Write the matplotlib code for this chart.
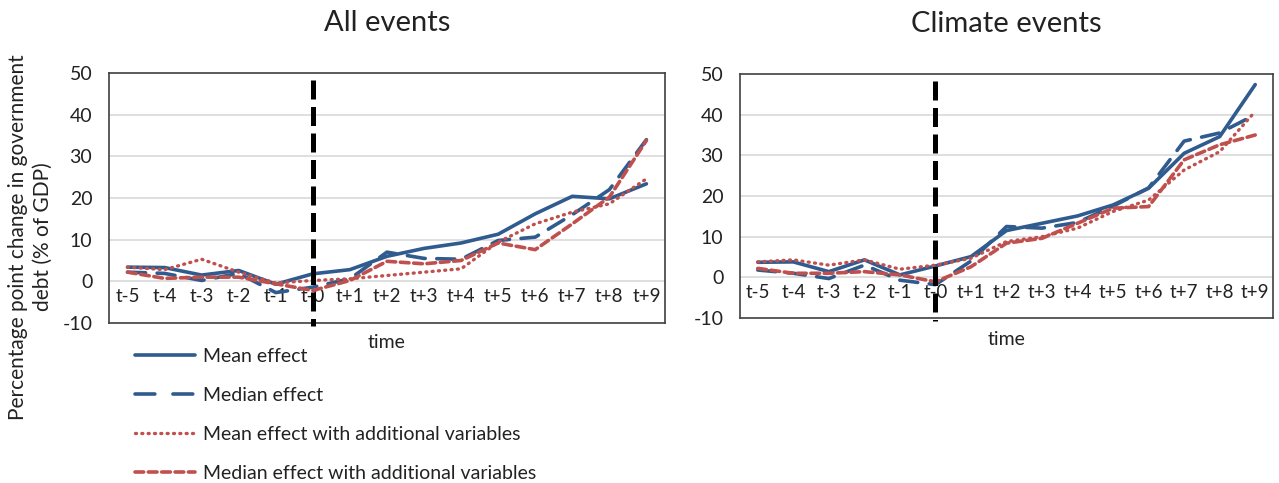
import matplotlib
matplotlib.use("Agg")
import matplotlib.pyplot as plt
from matplotlib.lines import Line2D

plt.rcParams['font.family'] = ['Lato', 'DejaVu Sans']

# Event-time categories
periods = ['t-5', 't-4', 't-3', 't-2', 't-1', 't-0', 't+1', 't+2',
           't+3', 't+4', 't+5', 't+6', 't+7', 't+8', 't+9']
event_period = 't-0'

# All events (pp change in government debt, % of GDP)
all_mean = [3.4, 3.3, 1.5, 2.6, -0.7, 1.8, 2.8, 6.0, 7.9, 9.2, 11.3, 16.2, 20.4, 19.8, 23.4]
all_median = [2.2, 1.9, 0.2, 1.9, -2.7, -1.4, 0.6, 7.0, 5.5, 5.3, 9.8, 10.6, 16.0, 22.0, 34.0]
all_mean_add = [3.4, 2.8, 5.3, 2.2, -0.4, 0.2, 0.6, 1.4, 2.2, 3.0, 9.4, 13.8, 16.6, 18.6, 24.6]
all_median_add = [2.2, 0.7, 1.0, 1.0, -0.6, -2.2, 0.2, 4.8, 4.2, 5.0, 9.2, 7.6, 13.8, 20.2, 33.8]

# Climate events
clim_mean = [3.7, 3.8, 1.4, 4.3, 0.6, 2.8, 5.1, 11.5, 13.3, 15.1, 17.8, 21.9, 30.5, 34.6, 47.4]
clim_median = [1.8, 1.0, -0.3, 3.0, -0.7, -1.8, 4.0, 12.5, 12.1, 13.5, 17.5, 22.0, 33.5, 35.5, 40.0]
clim_mean_add = [3.8, 4.3, 3.0, 4.3, 2.0, 3.0, 4.7, 8.8, 10.0, 12.1, 16.2, 19.0, 26.4, 30.9, 40.8]
clim_median_add = [2.2, 1.0, 1.0, 1.4, 0.6, -1.1, 2.6, 8.4, 9.6, 13.3, 17.0, 17.4, 28.9, 32.6, 35.0]

series_labels = ['Mean effect', 'Median effect',
                 'Mean effect with additional variables',
                 'Median effect with additional variables']
y_ticks = [-10, 0, 10, 20, 30, 40, 50]

BLUE = '#2F5B8F'
RED = '#C0504D'
TXT = '#222222'
FS = 13.5
styles = [
    dict(color=BLUE, lw=2.6, linestyle='-', solid_capstyle='round'),
    dict(color=BLUE, lw=2.6, linestyle=(0, (5.0, 3.2)), dash_capstyle='round'),
    dict(color=RED, lw=2.4, linestyle=(0, (0.3, 1.6)), dash_capstyle='round'),
    dict(color=RED, lw=2.6, linestyle=(0, (2.4, 1.3)), dash_capstyle='round'),
]
# legend swatches use a slightly longer dash for the median line
legend_styles = [dict(st) for st in styles]
legend_styles[1]['linestyle'] = (0, (5.5, 5.0))

fig = plt.figure(figsize=(12.79, 4.83), dpi=100)
ax1 = fig.add_axes([0.0852, 0.3313, 0.4347, 0.5176])
ax2 = fig.add_axes([0.5786, 0.3416, 0.4167, 0.5052])


def draw_panel(ax, title, data, xlabel_y):
    x = list(range(len(periods)))
    for vals, st in zip(data, styles):
        ax.plot(x, vals, zorder=3, **st)
    ax.set_xlim(-0.5, len(periods) - 0.5)
    ax.set_ylim(-10, 50)
    ax.set_yticks(y_ticks)
    ax.set_yticklabels([str(v) for v in y_ticks], fontsize=FS + 0.5, color=TXT)
    ax.tick_params(axis='y', length=0, pad=12)
    ax.set_xticks([])
    for v in y_ticks[1:-1]:
        ax.axhline(v, color='#D9D9D9', lw=1.2, zorder=1)
    for sp in ax.spines.values():
        sp.set_color('#404040')
        sp.set_linewidth(1.2)
    # category labels sit along the zero line
    zero_frac = (0 - (-10)) / 60
    sec = ax.secondary_xaxis(zero_frac)
    sec.set_xticks(x)
    sec.set_xticklabels(periods, fontsize=FS, color=TXT)
    sec.tick_params(length=0, pad=5)
    sec.spines['bottom'].set_visible(False)
    # event marker at t-0
    ev = periods.index(event_period)
    ax.plot([ev, ev], [48.2, -10.8], color='black', lw=3.6,
            linestyle=(0, (3.8, 1.5)), zorder=4, clip_on=False)
    ax.set_title(title, fontsize=21, pad=30, color=TXT)
    ax.text(0.5, xlabel_y, 'time', transform=ax.transAxes, ha='center',
            va='center', fontsize=FS + 0.5, color=TXT)


draw_panel(ax1, 'All events', [all_mean, all_median, all_mean_add, all_median_add], -0.08)
draw_panel(ax2, 'Climate events', [clim_mean, clim_median, clim_mean_add, clim_median_add], -0.09)

fig.text(0.024, 0.51, 'Percentage point change in government\ndebt (% of GDP)',
         rotation=90, ha='center', va='center', fontsize=15,
         color=TXT, linespacing=1.3)

handles = [Line2D([], [], **st) for st in legend_styles]
fig.legend(handles, series_labels, loc='upper left',
           bbox_to_anchor=(0.092, 0.316), frameon=False, fontsize=14,
           handlelength=3.1, handletextpad=0.4, labelspacing=1.13,
           labelcolor=TXT)

fig.savefig('out.png', dpi=100)
